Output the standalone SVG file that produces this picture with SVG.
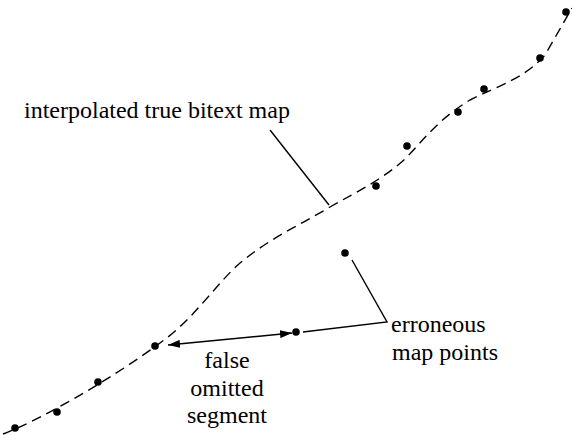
<svg xmlns="http://www.w3.org/2000/svg" width="572" height="435" viewBox="0 0 572 435">
<defs>
<style>
text{font-family:'Liberation Serif','Times New Roman','DejaVu Serif',serif;font-size:24px;fill:#000}
.d{fill:#000}
.l{fill:none;stroke:#000;stroke-width:1.4}
.dash{fill:none;stroke:#000;stroke-width:1.4;stroke-dasharray:10 6}
</style>
<marker id="ah" viewBox="0 0 12 8" refX="12" refY="4" markerWidth="12" markerHeight="8" markerUnits="userSpaceOnUse" orient="auto-start-reverse">
<path d="M0,0 L12,4 L0,8 Z" fill="#000"/>
</marker>
</defs>
<rect width="572" height="435" fill="#fff"/>
<g id="connectors">
<path id="curve" class="dash" d="M3,434 C40,420 110,380 160,343 C195,318 215,285 240,263 C270,238 300,225 330,207 C360,190 385,178 407,157 C425,138 440,118 470,100 C500,85 525,78 545,55 L572,8"/>
<path class="l" d="M270,130 L329,205"/>
<path class="l" d="M303,332 L387,322 L352,260"/>
<path class="l" d="M168,345 L292,333" marker-start="url(#ah)" marker-end="url(#ah)"/>
</g>
<g id="points">
<circle class="d" cx="15" cy="428" r="3.8"/>
<circle class="d" cx="57" cy="412" r="3.8"/>
<circle class="d" cx="98" cy="382" r="3.8"/>
<circle class="d" cx="155" cy="346" r="3.8"/>
<circle class="d" cx="296" cy="332" r="3.8"/>
<circle class="d" cx="345" cy="253" r="3.8"/>
<circle class="d" cx="376" cy="186" r="3.8"/>
<circle class="d" cx="407" cy="146" r="3.8"/>
<circle class="d" cx="458" cy="112" r="3.8"/>
<circle class="d" cx="484" cy="89" r="3.8"/>
<circle class="d" cx="540" cy="58" r="3.8"/>
<circle class="d" cx="566" cy="12" r="3.8"/>
</g>
<g id="label-map">
<text x="24" y="118">interpolated true bitext map</text>
</g>
<g id="label-erroneous">
<text x="391" y="332">erroneous</text>
<text x="392" y="360">map points</text>
</g>
<g id="label-omitted">
<text x="227" y="368" text-anchor="middle">false</text>
<text x="227" y="396" text-anchor="middle">omitted</text>
<text x="227" y="423" text-anchor="middle">segment</text>
</g>
</svg>
